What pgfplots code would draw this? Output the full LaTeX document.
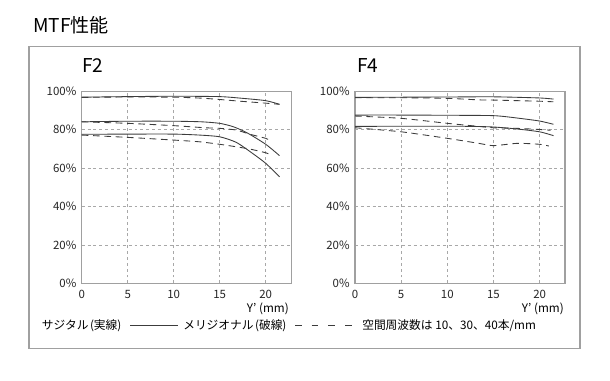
\documentclass[border=0pt]{standalone}
\usepackage{fontspec}
\setmainfont{Noto Sans CJK JP}
\usepackage{pgfplots}
\pgfplotsset{compat=1.18}
\definecolor{curve}{HTML}{3C3C3C}
\definecolor{gridc}{HTML}{A8A8A8}
\definecolor{framec}{HTML}{A0A0A0}
\pgfplotsset{
  mtf/.style={
    scale only axis,
    width=157pt, height=144.2pt,
    xmin=0, xmax=22.75, ymin=0, ymax=100,
    xtick={0,5,10,15,20},
    ytick={0,20,40,60,80,100},
    yticklabel={\pgfmathprintnumber{\tick}\%},
    /pgf/number format/assume math mode=true,
    tick label style={font=\fontsize{8.6}{10}\selectfont, text=black!85},
    major tick length=0pt,
    grid=major,
    major grid style={gridc, line width=0.5pt, dash pattern=on 2.2pt off 2.2pt},
    axis line style={framec, line width=0.8pt},
    xticklabel style={yshift=-1.5pt},
    yticklabel style={xshift=-0.5pt},
    anchor=south west,
  },
  sag/.style={curve, line width=0.65pt, no marks, smooth, tension=0.4},
  mer/.style={curve, line width=0.65pt, no marks, smooth, tension=0.4, dash pattern=on 5pt off 3.5pt},
}
\newcommand\legfont{\fontsize{8.8}{10}\selectfont}
\begin{document}
\begin{tikzpicture}
\fill[white] (0,0) rectangle (457.5pt,285pt);
\path[use as bounding box] (0,0) rectangle (457.5pt,285pt);
\draw[framec, line width=0.9pt] (21.75pt,23.8pt) rectangle (435pt,250pt);
\node[anchor=base west, inner sep=0pt, font=\fontsize{14.3}{16}\selectfont] at (24.75pt,260.5pt) {MTF性能};
\node[anchor=base west, inner sep=0pt, font=\fontsize{14.3}{16}\selectfont] at (61.5pt,230.5pt) {F2};
\node[anchor=base west, inner sep=0pt, font=\fontsize{14.3}{16}\selectfont] at (267.75pt,230.5pt) {F4};

\begin{axis}[mtf, at={(61.275pt,72.525pt)}]
% sagittal 10 / meridional 10
\addplot[sag] coordinates {(0,96.8) (5,97.1) (10,97.3) (15,97.1) (17.5,96.2) (20,95.0) (21.5,93.1)};
\addplot[mer] coordinates {(0,96.7) (5,96.9) (10,96.8) (13,96.3) (15,95.6) (17.5,94.6) (20,93.7) (21.5,93.1)};
% 30
\addplot[sag] coordinates {(0,84.0) (5,84.3) (10,84.3) (13,84.0) (15,83.2) (16.5,81.4) (18,78.2) (20,72.3) (21.5,66.4)};
\addplot[mer] coordinates {(0,84.0) (5,83.2) (10,82.0) (13.4,80.9) (15,80.6) (16.8,79.7) (18.3,77.5) (20,75.4) (20.6,74.0)};
% 40
\addplot[sag] coordinates {(0,77.5) (5,77.6) (10,77.6) (12.8,77.1) (15,76.2) (16.8,73.3) (18.5,67.8) (20,62.4) (21.5,55.4)};
\addplot[mer] coordinates {(0,77.1) (5,75.9) (10,74.5) (12.8,73.6) (15,72.3) (16.8,71.0) (18.3,69.8) (20,67.9) (20.6,66.7)};
\end{axis}

\begin{axis}[mtf, at={(266.25pt,72.525pt)}, width=157.5pt]
\addplot[sag] coordinates {(0,96.7) (5,96.8) (10,96.9) (15,97.0) (20,96.4) (21.5,95.8)};
\addplot[mer] coordinates {(0,96.5) (5,96.5) (10,96.2) (13.4,95.4) (15,95.3) (20,94.7) (21.5,94.4)};
\addplot[sag] coordinates {(0,87.5) (5,87.5) (10,87.4) (15,87.2) (17.5,86.0) (20,84.4) (21.5,82.7)};
\addplot[mer] coordinates {(0,87.0) (5,85.8) (10,83.2) (13,81.8) (15,80.9) (17.5,80.6) (20,80.0) (21.2,79.6)};
\addplot[sag] coordinates {(0,81.6) (5,81.7) (10,81.7) (13,81.6) (15,81.3) (17.5,80.3) (20,78.8) (21.5,76.8)};
\addplot[mer] coordinates {(0,80.9) (5,78.8) (10,75.4) (13.4,72.8) (15,71.6) (17.6,72.8) (20,72.3) (21,71.4)};
\end{axis}

\node[anchor=base east, inner sep=0pt, font=\legfont] at (216.75pt,51pt) {Y’ (mm)};
\node[anchor=base east, inner sep=0pt, font=\legfont] at (423pt,51pt) {Y’ (mm)};

\node[anchor=base west, inner sep=0pt, font=\legfont] at (31.25pt,37.6pt) {サジタル\kern.12em(実線)};
\draw[curve, line width=0.6pt] (97.5pt,40.7pt) -- (133.7pt,40.7pt);
\node[anchor=base west, inner sep=0pt, font=\legfont] at (137.25pt,37.6pt) {メリジオナル\kern.12em(破線)};
\draw[curve, line width=0.6pt, dash pattern=on 5pt off 7.5pt] (221.25pt,40.7pt) -- (264pt,40.7pt);
\node[anchor=base west, inner sep=0pt, font=\legfont] at (271.5pt,37.6pt) {空間周波数は 10、30、40本/mm};
\end{tikzpicture}
\end{document}
